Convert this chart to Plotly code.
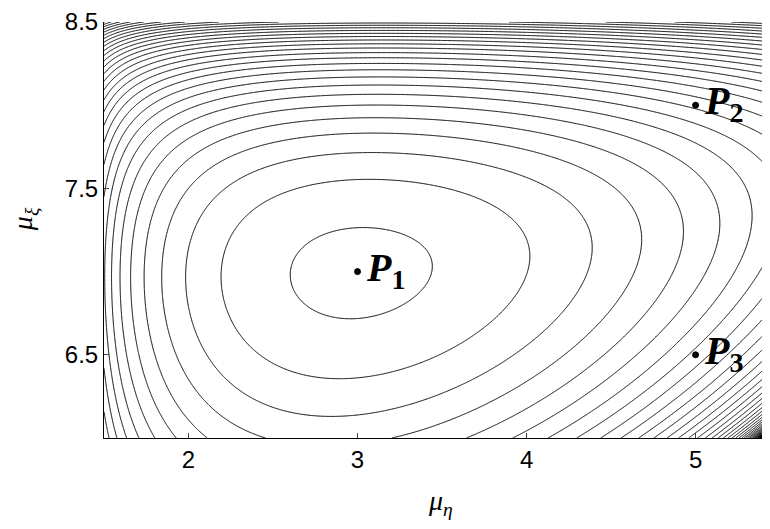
import numpy as np
import plotly.graph_objects as go

# Marked points
point_names = ["1", "2", "3"]
point_eta = [3.0, 5.0, 5.0]
point_xi = [7.0, 8.0, 6.5]

# Axis ticks
x_ticks = [2, 3, 4, 5]
y_ticks = [6.5, 7.5, 8.5]
x_range = [1.5, 5.393]
y_range = [6.0, 8.5]

# Surface parameters (fitted to the contour crossings);
# one contour per unit step, minimum at P1
w_eta, w_xi, w_diag = 5.7750, 14.8052, 7.9407
lim_eta, lim_xi = 1.3096, 8.6698
diag_c, diag_m, diag_n = 3.1635, 0.4856, 0.1110
first_level = 0.2568
x0m, y0m = point_eta[0], point_xi[0]


def hfun(x, y):
    return y - diag_c - diag_m * x - diag_n * (x - 4) ** 2


h0 = hfun(x0m, y0m)
hx0 = -diag_m - 2 * diag_n * (x0m - 4)
p_lin = w_eta / (x0m - lim_eta) + w_diag * hx0 / h0
q_lin = w_diag / h0 - w_xi / (lim_xi - y0m)


def field(x, y):
    with np.errstate(all="ignore"):
        return (-w_eta * np.log(x - lim_eta) - w_xi * np.log(lim_xi - y)
                - w_diag * np.log(hfun(x, y)) + p_lin * x + q_lin * y)


xs = np.linspace(x_range[0], x_range[1], 800)
ys = np.linspace(y_range[0], y_range[1], 520)
X, Y = np.meshgrid(xs, ys)
Z = field(X, Y)
fmin = field(x0m, y0m)

fig = go.Figure()
fig.add_trace(go.Contour(
    x=xs, y=ys, z=Z,
    contours=dict(start=fmin + first_level, end=fmin + first_level + 600, size=1.0,
                  coloring="lines"),
    colorscale=[[0, "black"], [1, "black"]],
    line=dict(width=1, smoothing=0.6),
    showscale=False, hoverinfo="skip", ncontours=600,
))
fig.add_trace(go.Scatter(
    x=point_eta, y=point_xi, mode="markers",
    marker=dict(symbol="circle-dot", size=6, color="black", line=dict(width=1, color="black")),
    showlegend=False, hoverinfo="skip",
))
for n_, px_, py_ in zip(point_names, point_eta, point_xi):
    fig.add_annotation(x=px_, y=py_, xref="x", yref="y",
                       text=f"<b><i>P</i></b><sub><b>{n_}</b></sub>",
                       showarrow=False, xanchor="left", yanchor="middle",
                       xshift=6, yshift=2,
                       font=dict(family="Liberation Serif", size=40, color="black"))

fig.add_annotation(x=0.511, y=-0.155, xref="paper", yref="paper", xanchor="center", yanchor="middle",
                   text="<i>μ</i><sub><i>η</i></sub>", showarrow=False,
                   font=dict(family="Liberation Serif", size=28, color="black"))
fig.add_annotation(x=-0.1216, y=0.526, xref="paper", yref="paper", xanchor="center", yanchor="middle",
                   text="<i>μ</i><sub><i>ξ</i></sub>", showarrow=False, textangle=-90,
                   font=dict(family="Liberation Serif", size=28, color="black"))

fig.update_xaxes(range=x_range, tickvals=x_ticks, ticks="inside", ticklen=5,
                 showline=True, linecolor="black", linewidth=1, showgrid=False,
                 zeroline=False, tickfont=dict(family="Liberation Sans", size=24, color="black"))
fig.update_yaxes(range=y_range, tickvals=y_ticks, ticks="inside", ticklen=5,
                 showline=True, linecolor="black", linewidth=1, showgrid=False,
                 zeroline=False, ticklabeloverflow="allow",
                 tickfont=dict(family="Liberation Sans", size=24, color="black"))
fig.update_layout(width=754, height=513, margin=dict(l=96, r=0, t=8, b=83),
                  plot_bgcolor="white", paper_bgcolor="white", showlegend=False)
fig.write_html("out.html")
